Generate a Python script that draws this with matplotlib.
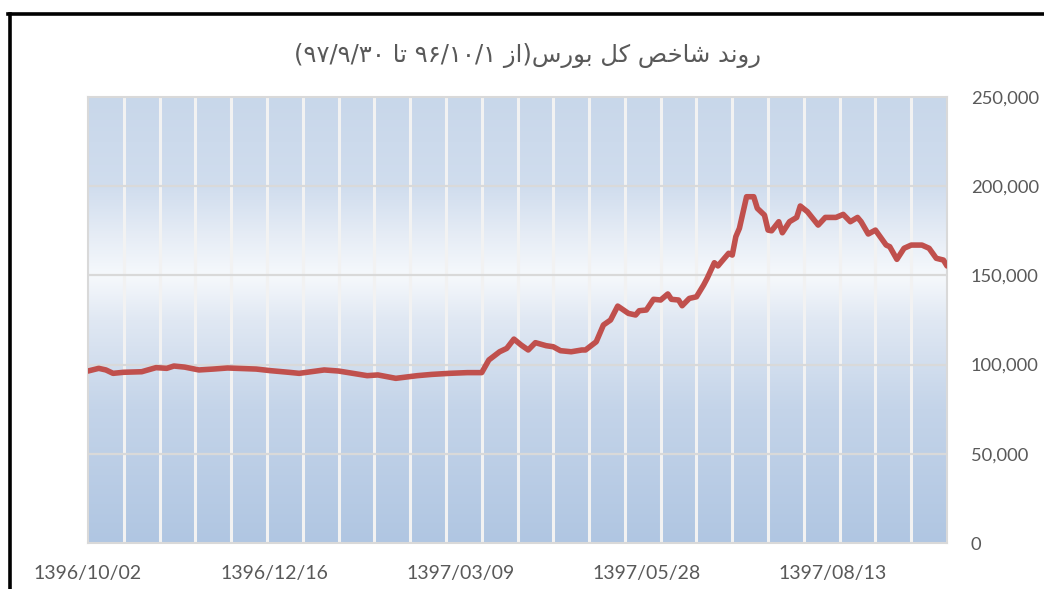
import re
import numpy as np
import matplotlib.pyplot as plt
from matplotlib.colors import LinearSegmentedColormap
from matplotlib.lines import Line2D

# title (logical order, Persian)
title_fa = 'روند شاخص کل بورس(از ۹۶/۱۰/۱ تا ۹۷/۹/۳۰)'

# trading-day position and index level
day_idx = [0, 3, 5, 7, 10, 15, 19, 22, 24, 27, 31, 35, 39, 47, 51, 56, 59,
           66, 70, 74, 78, 81, 86, 92, 96, 101, 106, 110, 112, 115, 117, 119,
           121, 123, 125, 128, 130, 132, 135, 138, 139, 142, 144, 146, 148,
           151, 153, 154, 156, 158, 160, 162, 163, 165, 166, 168, 170, 172,
           173, 175, 176, 177, 179, 180, 181, 182, 184, 186, 187, 189, 190,
           191, 193, 194, 196, 198, 199, 201, 204, 206, 209, 211, 213, 215,
           216, 218, 220, 223, 224, 226, 228, 230, 233, 235, 237, 239, 240]
index_val = [96400, 97900, 97000, 95100, 95700, 96000, 98300, 97900, 99200,
             98600, 97000, 97500, 98100, 97500, 96600, 95700, 95100,
             97000, 96400, 95100, 93800, 94200, 92300, 93800, 94500, 95100,
             95500, 95500, 102600, 107200, 109100, 114300,
             111000, 108200, 112300, 110600, 110000, 107800, 107200, 108200,
             108200, 112800, 122200, 125000, 132800,
             128700, 127800, 130200, 130600, 136600, 136200, 139600, 136600,
             136200, 133000, 137100, 138000, 144600,
             148400, 157100, 155300, 157700, 162400, 161400, 171700, 176400,
             194100, 194100, 187600, 183800, 175400,
             175000, 180100, 173900, 180100, 182500, 188900, 185700, 178200,
             182500, 182500, 184200, 180100, 182500,
             180100, 173200, 175400, 167000, 166100, 159000, 165200, 167000,
             167000, 165200, 159600, 158600, 155300]

tick_days = [0, 52, 104, 156, 208]
tick_labels = ['1396/10/02', '1396/12/16', '1397/03/09', '1397/05/28', '1397/08/13']
y_ticks = [0, 50000, 100000, 150000, 200000, 250000]
n_days = 240


# minimal Persian shaping: (isolated, final, initial, medial)
FORMS = {
    'ا': ('\uFE8D', '\uFE8E', None, None),
    'ب': ('\uFE8F', '\uFE90', '\uFE91', '\uFE92'),
    'ت': ('\uFE95', '\uFE96', '\uFE97', '\uFE98'),
    'خ': ('\uFEA5', '\uFEA6', '\uFEA7', '\uFEA8'),
    'د': ('\uFEA9', '\uFEAA', None, None),
    'ر': ('\uFEAD', '\uFEAE', None, None),
    'ز': ('\uFEAF', '\uFEB0', None, None),
    'س': ('\uFEB1', '\uFEB2', '\uFEB3', '\uFEB4'),
    'ش': ('\uFEB5', '\uFEB6', '\uFEB7', '\uFEB8'),
    'ص': ('\uFEB9', '\uFEBA', '\uFEBB', '\uFEBC'),
    'ل': ('\uFEDD', '\uFEDE', '\uFEDF', '\uFEE0'),
    'ن': ('\uFEE5', '\uFEE6', '\uFEE7', '\uFEE8'),
    'و': ('\uFEED', '\uFEEE', None, None),
    'ک': ('\uFB8E', '\uFB8F', '\uFB90', '\uFB91'),
}


def shape_rtl(s):
    out = []
    for i, c in enumerate(s):
        if c not in FORMS:
            out.append(c)
            continue
        prev = s[i - 1] if i > 0 else ''
        nxt = s[i + 1] if i + 1 < len(s) else ''
        pj = prev in FORMS and FORMS[prev][2] is not None
        nj = nxt in FORMS and FORMS[c][2] is not None
        iso, fin, ini, med = FORMS[c]
        if pj and nj:
            out.append(med)
        elif pj:
            out.append(fin)
        elif nj:
            out.append(ini)
        else:
            out.append(iso)
    tokens = re.findall(r'[۰-۹0-9/]+|.', ''.join(out))
    mirror = {'(': ')', ')': '('}
    return ''.join(mirror.get(t, t) for t in reversed(tokens))


fig = plt.figure(figsize=(10.44, 5.89), dpi=100)
ax = fig.add_axes([88 / 1044, 1 - 543 / 589, (947 - 88) / 1044, (543 - 97) / 589])

# gradient background
grad = LinearSegmentedColormap.from_list('bg', [
    (0.0, '#B0C6E2'), (0.3, '#C4D4E9'), (0.5, '#E0E8F3'), (0.6, '#F6F9FC'),
    (0.7, '#E4EBF5'), (0.8, '#D0DDEE'), (1.0, '#C8D7EA')])
ax.imshow(np.linspace(0, 1, 256).reshape(-1, 1), cmap=grad, origin='lower',
          extent=[0, n_days, 0, 250000], aspect='auto', zorder=0)

for d in range(10, n_days, 10):
    ax.axvline(d, color='#F2F2F2', lw=2.2, zorder=1)
for y in y_ticks[1:-1]:
    ax.axhline(y, color='#D9D9D9', lw=1.6, zorder=1)

ax.plot(day_idx, index_val, color='#C0504D', lw=4.0, solid_joinstyle='round',
        solid_capstyle='round', zorder=3)

ax.set_xlim(0, n_days)
ax.set_ylim(0, 250000)
ax.set_xticks(tick_days)
ax.set_xticklabels(tick_labels)
ax.set_yticks(y_ticks)
ax.set_yticklabels([f'{v:,}' for v in y_ticks])
ax.yaxis.tick_right()
ax.tick_params(axis='both', length=0, labelcolor='#595959')
ax.tick_params(axis='x', pad=16, labelsize=14)
ax.tick_params(axis='y', pad=17, labelsize=13.2)
for lab in ax.get_yticklabels():
    lab.set_horizontalalignment('left')
for lab in ax.get_xticklabels() + ax.get_yticklabels():
    lab.set_family('Lato')
for sp in ax.spines.values():
    sp.set_color('#D9D9D9')
    sp.set_linewidth(1.5)

fig.text(527 / 1044, 1 - 56 / 589, shape_rtl(title_fa), ha='center', va='center',
         fontsize=17.5, color='#595959', family=['DejaVu Sans'])

# outer frame (left and top edges visible)
fig.add_artist(Line2D([9.5 / 1044, 9.5 / 1044], [0, 1 - 14 / 589],
                      color='black', lw=2.6, transform=fig.transFigure))
fig.add_artist(Line2D([8 / 1044, 1], [1 - 14 / 589, 1 - 14 / 589],
                      color='black', lw=2.6, transform=fig.transFigure))

fig.savefig('out.png', dpi=100)
